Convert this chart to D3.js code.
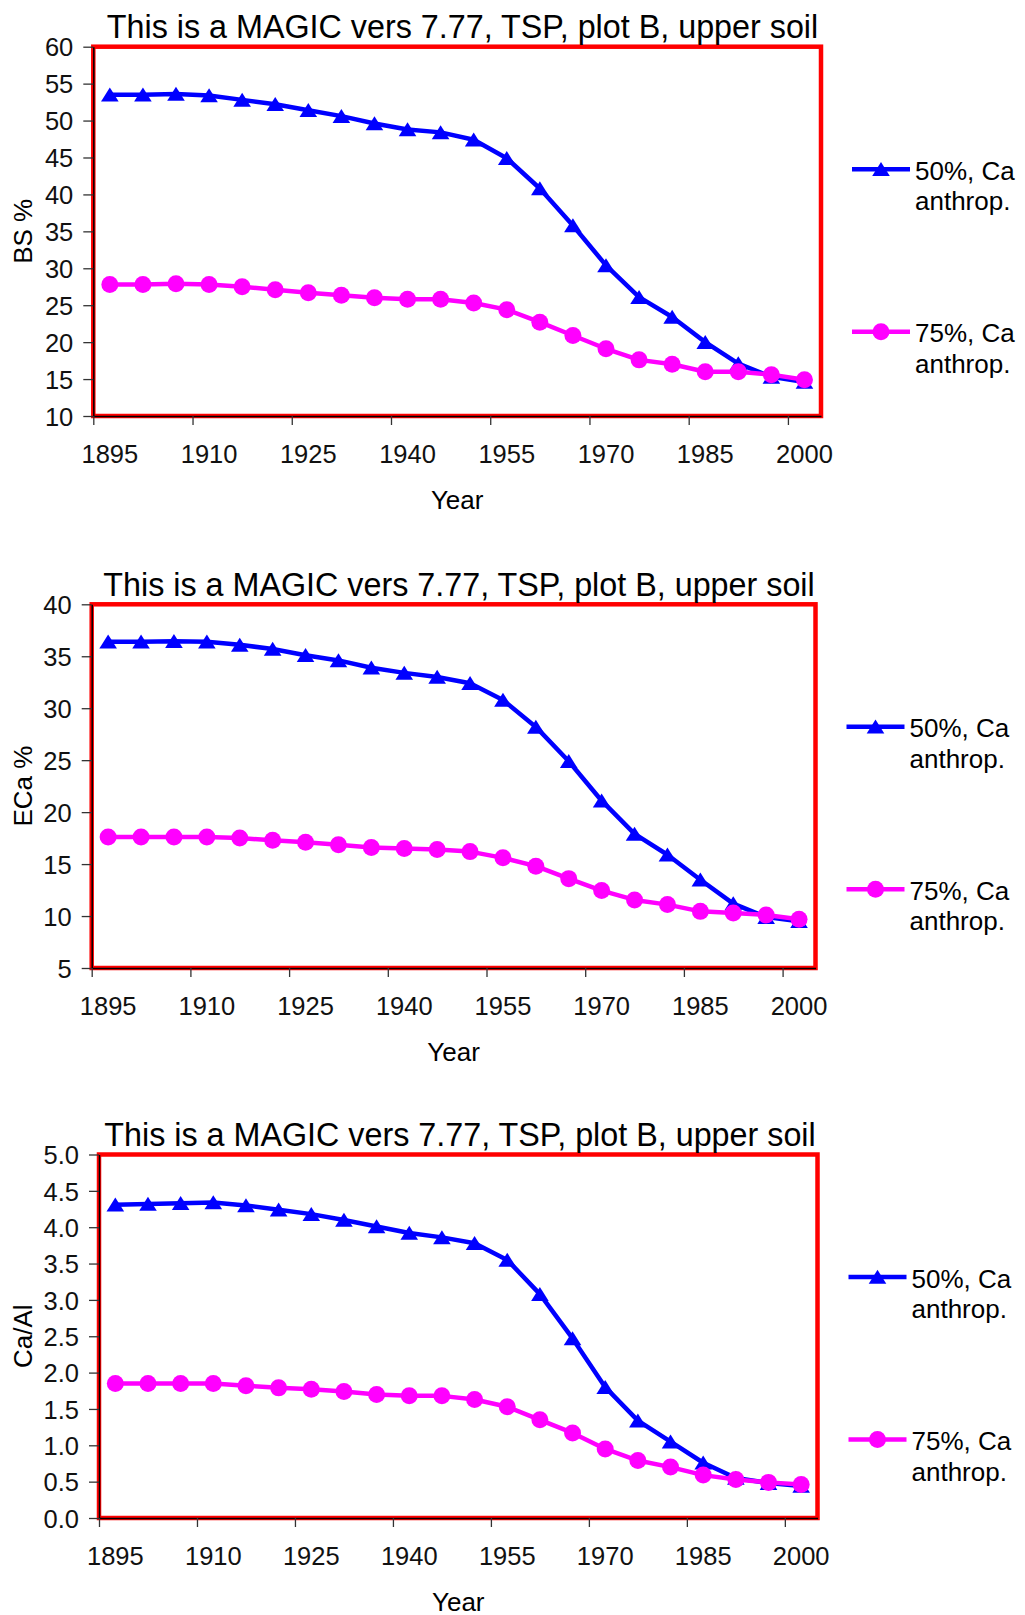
<!DOCTYPE html>
<html>
<head>
<meta charset="utf-8">
<title>MAGIC vers 7.77, TSP, plot B, upper soil</title>
<script src="https://cdn.jsdelivr.net/npm/d3@7"></script>
<style>
    html, body { margin: 0; padding: 0; background: #fff; }
    svg { display: block; }
    .tick text { font-family: "Liberation Sans Narrow", "Arial Narrow", "Liberation Sans", sans-serif; font-size: 25.5px; fill: #111; }
    .tick line { stroke: #333; stroke-width: 1.3; }
    .chart-title { font-family: "Liberation Sans", Arial, sans-serif; font-size: 32.3px; fill: #000; }
    .axis-title, .legend-text { font-family: "Liberation Sans", Arial, sans-serif; font-size: 26px; fill: #000; }
</style>
</head>
<body>
<svg id="chart" width="1025" height="1615"></svg>
<script>
// 类别：年份
var years = [1895, 1900, 1905, 1910, 1915, 1920, 1925, 1930, 1935, 1940, 1945,
             1950, 1955, 1960, 1965, 1970, 1975, 1980, 1985, 1990, 1995, 2000];
var xLabelYears = [1895, 1910, 1925, 1940, 1955, 1970, 1985, 2000];

var chartTitle = "This is a MAGIC vers 7.77, TSP, plot B, upper soil";
var legendLines = [["50%, Ca", "anthrop."], ["75%, Ca", "anthrop."]];

// BS %
var bsHalf = [53.5, 53.5, 53.6, 53.4, 52.8, 52.2, 51.4, 50.6, 49.6, 48.8, 48.4,
              47.4, 44.9, 40.8, 35.8, 30.4, 26.1, 23.4, 20.0, 17.1, 15.3, 14.6];
var bsThreeQuarter = [27.8, 27.8, 27.9, 27.8, 27.5, 27.1, 26.7, 26.35, 26.0, 25.8, 25.8,
                      25.3, 24.4, 22.7, 20.9, 19.1, 17.6, 17.0, 16.0, 16.0, 15.6, 14.9];
var bsTicks = [10, 15, 20, 25, 30, 35, 40, 45, 50, 55, 60];

// ECa %
var ecaHalf = [36.4, 36.4, 36.45, 36.4, 36.1, 35.7, 35.1, 34.6, 33.9, 33.4, 33.0,
               32.4, 30.8, 28.2, 24.9, 21.1, 17.9, 15.9, 13.5, 11.2, 9.9, 9.5];
var ecaThreeQuarter = [17.6, 17.6, 17.6, 17.6, 17.5, 17.3, 17.1, 16.85, 16.6, 16.5, 16.4,
                       16.2, 15.6, 14.8, 13.6, 12.45, 11.55, 11.1, 10.45, 10.3, 10.1, 9.7];
var ecaTicks = [5, 10, 15, 20, 25, 30, 35, 40];

// Ca/Al
var caalHalf = [4.31, 4.32, 4.33, 4.34, 4.30, 4.24, 4.18, 4.10, 4.01, 3.92, 3.86,
                3.78, 3.55, 3.08, 2.47, 1.80, 1.34, 1.05, 0.76, 0.55, 0.48, 0.44];
var caalThreeQuarter = [1.85, 1.85, 1.85, 1.85, 1.82, 1.79, 1.77, 1.74, 1.70, 1.68, 1.68,
                        1.63, 1.53, 1.35, 1.17, 0.95, 0.79, 0.70, 0.59, 0.53, 0.49, 0.46];
var caalTicks = [0, 0.5, 1.0, 1.5, 2.0, 2.5, 3.0, 3.5, 4.0, 4.5, 5.0];

;(function (win) {

    "use strict";

    // 配置
    var _config = {
        colors: ["#0000FF", "#FF00FF"],
        lineWidth: 4.5,
        narrowScale: 0.82,
        panels: [
            {label: "BS %", series: [bsHalf, bsThreeQuarter], ticks: bsTicks, fmt: d3.format("d"),
             left: 93.3, right: 821, top: 46.7, bottom: 416, titleX: 462.5},
            {label: "ECa %", series: [ecaHalf, ecaThreeQuarter], ticks: ecaTicks, fmt: d3.format("d"),
             left: 91.7, right: 815.5, top: 604.3, bottom: 968, titleX: 459},
            {label: "Ca/Al", series: [caalHalf, caalThreeQuarter], ticks: caalTicks, fmt: d3.format(".1f"),
             left: 99, right: 817.5, top: 1154.5, bottom: 1518, titleX: 460}
        ]
    };

    var svg = d3.select("#chart");

    var _tool = {
        // 检查窄字体是否存在
        narrowOk: function () {
            var a = svg.append("text").style("font-family", '"Liberation Sans Narrow"').style("font-size", "100px").text("1895");
            var b = svg.append("text").style("font-family", '"Liberation Sans"').style("font-size", "100px").text("1895");
            var ok = a.node().getComputedTextLength() < 0.9 * b.node().getComputedTextLength();
            a.remove();
            b.remove();
            return ok;
        },

        squeeze: function (sel) {
            if (_tool.hasNarrow) return;
            sel.selectAll(".tick text").each(function () {
                var t = d3.select(this);
                var x = +t.attr("x") || 0;
                t.attr("x", x / _config.narrowScale)
                    .attr("transform", "scale(" + _config.narrowScale + ",1)");
            });
        },

        triangle: function (g) {
            return g.append("path").attr("d", "M0,-7.2 L8.8,6.8 L-8.8,6.8 Z");
        },

        drawMarker: function (g, i, x, y) {
            var m;
            if (i === 0) {
                m = _tool.triangle(g);
            } else {
                m = g.append("circle").attr("r", 8.5);
            }
            m.attr("transform", "translate(" + x + "," + y + ")")
                .attr("fill", _config.colors[i]);
        },

        drawPanel: function (p) {
            var g = svg.append("g");

            var x = d3.scaleBand().domain(years).range([p.left, p.right]);
            var xEdge = d3.scaleLinear().domain([0, years.length]).range([p.left, p.right]);
            var y = d3.scaleLinear().domain(d3.extent(p.ticks)).range([p.bottom, p.top]);

            // 绘图区边框
            g.append("rect")
                .attr("x", p.left).attr("y", p.top)
                .attr("width", p.right - p.left).attr("height", p.bottom - p.top)
                .attr("fill", "none").attr("stroke", "#FF0000").attr("stroke-width", 4.5);

            // y轴
            var yAxis = g.append("g")
                .attr("transform", "translate(" + p.left + ",0)")
                .call(d3.axisLeft(y).tickValues(p.ticks).tickFormat(p.fmt).tickSize(10).tickSizeOuter(0).tickPadding(10));
            yAxis.select(".domain").attr("stroke", "#000").attr("stroke-width", 1.5);
            yAxis.selectAll(".tick text").attr("dy", "0.36em");
            _tool.squeeze(yAxis);

            // x轴刻度线（类别边界）
            var edgeTicks = d3.range(0, years.length, 3);
            var xTickAxis = g.append("g")
                .attr("transform", "translate(0," + p.bottom + ")")
                .call(d3.axisBottom(xEdge).tickValues(edgeTicks).tickFormat("").tickSize(9).tickSizeOuter(0));
            xTickAxis.select(".domain").attr("stroke", "#000").attr("stroke-width", 1.5);

            // x轴标签
            var xLabelAxis = g.append("g")
                .attr("transform", "translate(0," + p.bottom + ")")
                .call(d3.axisBottom(x).tickValues(xLabelYears).tickSize(0).tickPadding(29));
            xLabelAxis.select(".domain").remove();
            _tool.squeeze(xLabelAxis);

            // 标题
            g.append("text").attr("class", "chart-title")
                .attr("x", p.titleX).attr("y", p.top - 8.8)
                .attr("text-anchor", "middle").text(chartTitle);

            // 坐标轴标题
            g.append("text").attr("class", "axis-title")
                .attr("transform", "translate(32," + ((p.top + p.bottom) / 2) + ") rotate(-90)")
                .attr("text-anchor", "middle").text(p.label);
            g.append("text").attr("class", "axis-title")
                .attr("x", (p.left + p.right) / 2).attr("y", p.bottom + 92.5)
                .attr("text-anchor", "middle").text("Year");

            // 数据线与标记
            var cx = function (d, i) { return x(years[i]) + x.bandwidth() / 2; };
            p.series.forEach(function (vals, si) {
                var line = d3.line().x(cx).y(function (d) { return y(d); });
                g.append("path").datum(vals)
                    .attr("d", line)
                    .attr("fill", "none")
                    .attr("stroke", _config.colors[si])
                    .attr("stroke-width", _config.lineWidth)
                    .attr("stroke-linejoin", "round");
                var mg = g.append("g");
                vals.forEach(function (v, i) {
                    _tool.drawMarker(mg, si, cx(v, i), y(v));
                });
            });

            // 图例
            var legendRows = [122.5, 285];
            legendLines.forEach(function (txt, si) {
                var ly = p.top + legendRows[si];
                var lx = p.right + 31;
                var lg = g.append("g");
                lg.append("line")
                    .attr("x1", lx).attr("x2", lx + 58)
                    .attr("y1", ly).attr("y2", ly)
                    .attr("stroke", _config.colors[si]).attr("stroke-width", _config.lineWidth);
                _tool.drawMarker(lg, si, lx + 29, ly);
                lg.append("text").attr("class", "legend-text")
                    .attr("x", lx + 63).attr("y", ly + 10.5).text(txt[0]);
                lg.append("text").attr("class", "legend-text")
                    .attr("x", lx + 63).attr("y", ly + 41).text(txt[1]);
            });
        }
    };

    _tool.hasNarrow = _tool.narrowOk();
    _config.panels.forEach(_tool.drawPanel);

})(window);
</script>
</body>
</html>
